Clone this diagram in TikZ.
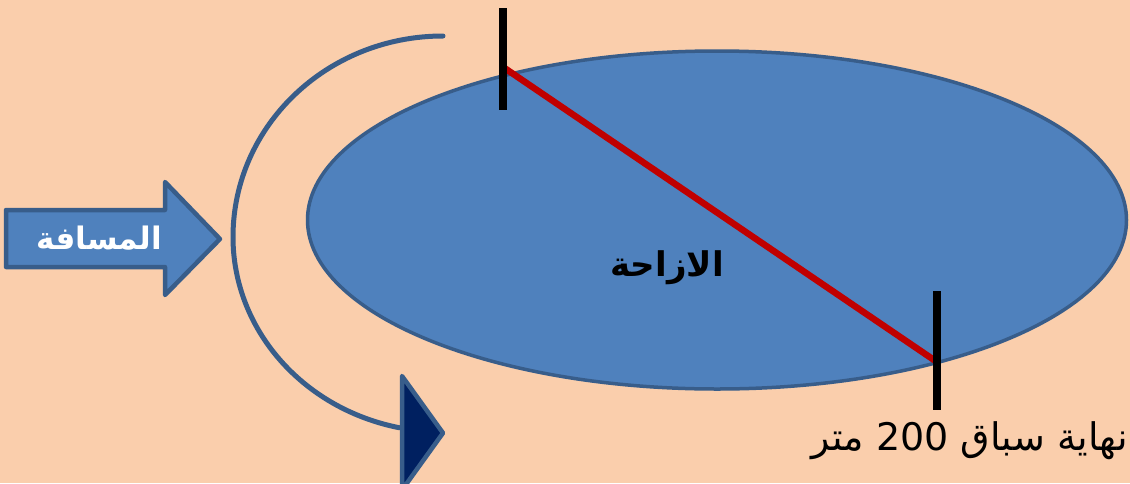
\documentclass[tikz,border=0pt]{standalone}
\usepackage{fontspec}
\usetikzlibrary{shapes.geometric}
\newfontfamily\arabicfont[Script=Arabic]{DejaVu Sans}
\TeXXeTstate=1
\definecolor{bgpeach}{HTML}{FACEAC}
\definecolor{ovalblue}{HTML}{4F81BD}
\definecolor{edgeblue}{HTML}{385D8A}
\definecolor{navy}{HTML}{002060}
\definecolor{redline}{HTML}{C00000}
\tikzset{
  shapeedge/.style={draw=edgeblue, line width=4.5pt, line join=round},
  tickmark/.style={draw=black, line width=8pt},
  arlabel/.style={inner sep=0pt, anchor=center},
}
\begin{document}
\begin{tikzpicture}[x=1pt,y=-1pt]
\useasboundingbox (0,0) rectangle (1130,483);
\clip (0,0) rectangle (1130,483);
\fill[bgpeach] (0,0) rectangle (1130,483);
% oval
\node[ellipse, fill=ovalblue, draw=edgeblue, line width=3.5pt, inner sep=0pt, minimum width=819pt, minimum height=338pt] (oval) at (717,220) {};
% curved arrow
\draw[edgeblue, line width=5pt, line cap=round] (443,36) arc[start angle=90, end angle=180, x radius=210pt, y radius=201pt]
  arc[start angle=180, end angle=258, x radius=210pt, y radius=195pt] coordinate (arcend);
\filldraw[fill=navy, shapeedge] (402,376) -- (443,433) -- (402,490) -- cycle;
% block arrow
\filldraw[fill=ovalblue, shapeedge] (6,210) -- (165,210) -- (165,182) -- (220,239) -- (165,295) -- (165,267) -- (6,267) -- cycle;
\node[arlabel, text=white] (dist) at (99,238) {\fontsize{31}{34}\selectfont\arabicfont\bfseries\beginR المسافة\endR};
% displacement
\coordinate (start) at (503,67);
\coordinate (finish) at (937,362);
\draw[redline, line width=6.5pt] (start) -- (finish);
\draw[tickmark] (503,8) -- (503,110);
\draw[tickmark] (937,291) -- (937,410);
\node[arlabel] (disp) at (667,268) {\fontsize{34}{38}\selectfont\arabicfont\bfseries\beginR الازاحة\endR};
\node[arlabel, anchor=base east] (race) at (1128,450) {\fontsize{38}{42}\selectfont\arabicfont\beginR نهاية سباق \beginL 200\endL{} متر\endR};
\end{tikzpicture}
\end{document}
